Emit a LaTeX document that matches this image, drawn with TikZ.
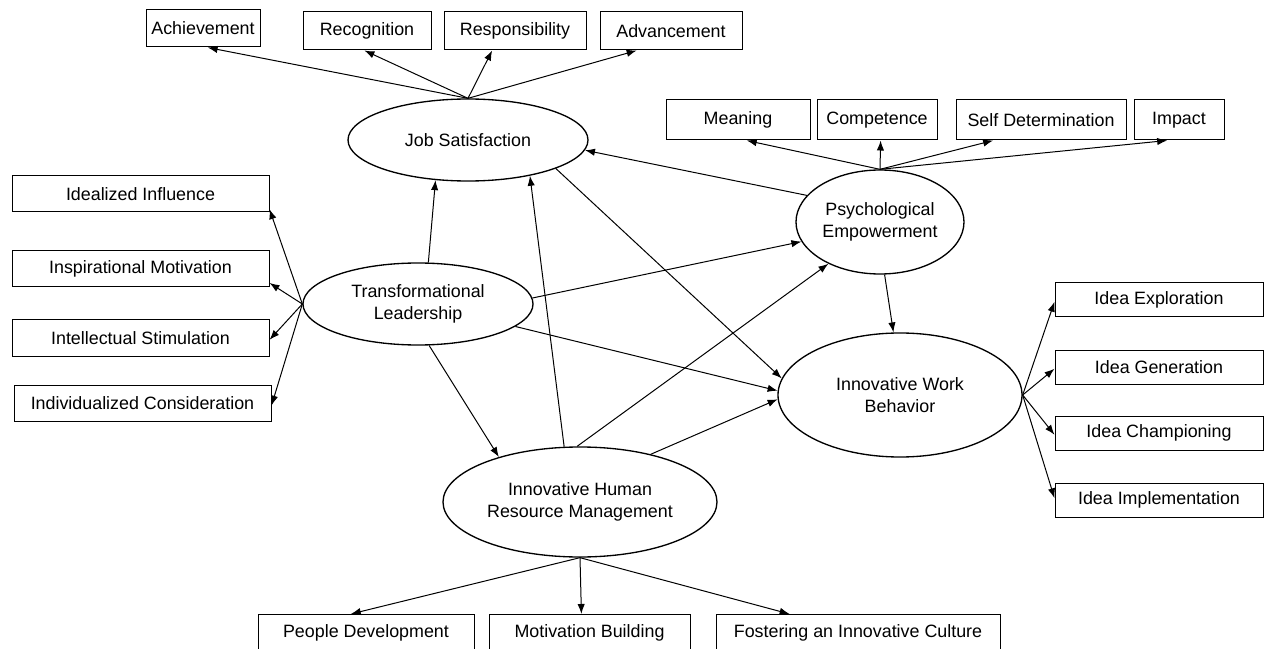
\documentclass[tikz,border=0pt]{standalone}
\usepackage{fontspec}
\setmainfont{Liberation Sans}
\usetikzlibrary{shapes.geometric,arrows.meta,calc}

\tikzset{every picture/.style={line width=0.75pt}}
\tikzset{
  itembox/.style={draw, rectangle, inner sep=0pt, font=\fontsize{13.4}{16}\selectfont},
  latent/.style={draw, ellipse, line width=1pt, inner sep=0pt, align=center, font=\fontsize{13.4}{16.5}\selectfont},
  link/.style={-{Latex[length=7.5pt,width=5.5pt]}, line width=0.75pt},
}

\begin{document}
\begin{tikzpicture}[x=0.75pt,y=0.75pt,yscale=-1,xscale=1]
\useasboundingbox (0,0) rectangle (1265,649);

%Latent variables
\node [latent, minimum width=180pt, minimum height=61.5pt] (js) at (468,140) {Job Satisfaction};
\node [latent, minimum width=172.5pt, minimum height=61.5pt] (tl) at (418,304) {Transformational\\Leadership};
\node [latent, minimum width=126pt, minimum height=78pt] (pe) at (880,222) {Psychological\\Empowerment};
\node [latent, minimum width=183pt, minimum height=93pt] (iwb) at (900,395) {Innovative Work\\Behavior};
\node [latent, minimum width=205.5pt, minimum height=82.5pt] (ihrm) at (580,502) {Innovative Human\\Resource Management};

%Job satisfaction items
\node [itembox, minimum width=85.5pt, minimum height=27.75pt] (ach) at (203,28.5) {Achievement};
\node [itembox, minimum width=96pt, minimum height=28.5pt] (rec) at (367,31) {Recognition};
\node [itembox, minimum width=106.5pt, minimum height=28.5pt] (resp) at (515,31) {Responsibility};
\node [itembox, minimum width=106.5pt, minimum height=28.5pt] (adv) at (671,31) {Advancement};

%Empowerment items
\node [itembox, minimum width=108pt, minimum height=30pt] (mean) at (738,120) {Meaning};
\node [itembox, minimum width=90pt, minimum height=30pt] (comp) at (877,120) {Competence};
\node [itembox, minimum width=127.5pt, minimum height=30pt] (selfd) at (1041,120) {Self Determination};
\node [itembox, minimum width=67.5pt, minimum height=30pt] (imp) at (1179,120) {Impact};

%Leadership items
\node [itembox, minimum width=192.75pt, minimum height=27pt] (idi) at (140.5,194) {Idealized Influence};
\node [itembox, minimum width=192.75pt, minimum height=27pt] (insp) at (140.5,268.5) {Inspirational Motivation};
\node [itembox, minimum width=192.75pt, minimum height=27pt] (intel) at (140.5,338) {Intellectual Stimulation};
\node [itembox, minimum width=192.75pt, minimum height=27pt] (indiv) at (142.5,403) {Individualized Consideration};

%Work behavior items
\node [itembox, minimum width=156pt, minimum height=25.5pt] (iexp) at (1159,300) {Idea Exploration};
\node [itembox, minimum width=156pt, minimum height=25.5pt] (igen) at (1159,367) {Idea Generation};
\node [itembox, minimum width=156pt, minimum height=25.5pt] (ichamp) at (1159,433) {Idea Championing};
\node [itembox, minimum width=156pt, minimum height=25.5pt] (iimpl) at (1159,500) {Idea Implementation};

%HRM items
\node [itembox, minimum width=162pt, minimum height=27.75pt] (pdev) at (366,633) {People Development};
\node [itembox, minimum width=150.75pt, minimum height=27.75pt] (mbuild) at (589.5,633) {Motivation Building};
\node [itembox, minimum width=213pt, minimum height=27.75pt] (fost) at (858,633) {Fostering an Innovative Culture};

%Indicators of job satisfaction
\draw [link] (js.north) -- ($(ach.south west)!0.54!(ach.south east)$);
\draw [link] (js.north) -- ($(rec.south west)!0.48!(rec.south east)$);
\draw [link] (js.north) -- ($(resp.south west)!0.34!(resp.south east)$);
\draw [link] (js.north) -- ($(adv.south west)!0.26!(adv.south east)$);

%Indicators of empowerment
\draw [link] (pe.north) -- ($(mean.south west)!0.56!(mean.south east)$);
\draw [link] (pe.north) -- ($(comp.south west)!0.53!(comp.south east)$);
\draw [link] (pe.north) -- ($(selfd.south west)!0.22!(selfd.south east)$);
\draw [link] (pe.north) -- ($(imp.south west)!0.37!(imp.south east)$);

%Indicators of leadership
\draw [link] (tl.west) -- ($(idi.north east)!0.91!(idi.south east)$);
\draw [link] (tl.west) -- ($(insp.north east)!0.89!(insp.south east)$);
\draw [link] (tl.west) -- ($(intel.north east)!0.55!(intel.south east)$);
\draw [link] (tl.west) -- ($(indiv.north east)!0.57!(indiv.south east)$);

%Indicators of work behavior
\draw [link] (iwb.east) -- ($(iexp.north west)!0.55!(iexp.south west)$);
\draw [link] (iwb.east) -- ($(igen.north west)!0.55!(igen.south west)$);
\draw [link] (iwb.east) -- ($(ichamp.north west)!0.55!(ichamp.south west)$);
\draw [link] (iwb.east) -- ($(iimpl.north west)!0.45!(iimpl.south west)$);

%Indicators of HRM
\draw [link] (ihrm.south) -- ($(pdev.north west)!0.43!(pdev.north east)$);
\draw [link] (ihrm.south) -- ($(mbuild.north west)!0.46!(mbuild.north east)$);
\draw [link] (ihrm.south) -- ($(fost.north west)!0.26!(fost.north east)$);

%Structural paths
\draw [link] (tl.76) -- (js.-129);
\draw [link] (tl.3) -- (pe.-166);
\draw [link] (tl.-13) -- (iwb.178);
\draw [link] (tl.-75) -- (ihrm.151);
\draw [link] (ihrm.106) -- (js.-30);
\draw [link] (ihrm.93) -- (pe.-141);
\draw [link] (ihrm.34) -- (iwb.-178);
\draw [link] (pe.160) -- (js.-5);
\draw [link] (pe.-85) -- (iwb.96);
\draw [link] (js.-18) -- (iwb.172);

\end{tikzpicture}
\end{document}
